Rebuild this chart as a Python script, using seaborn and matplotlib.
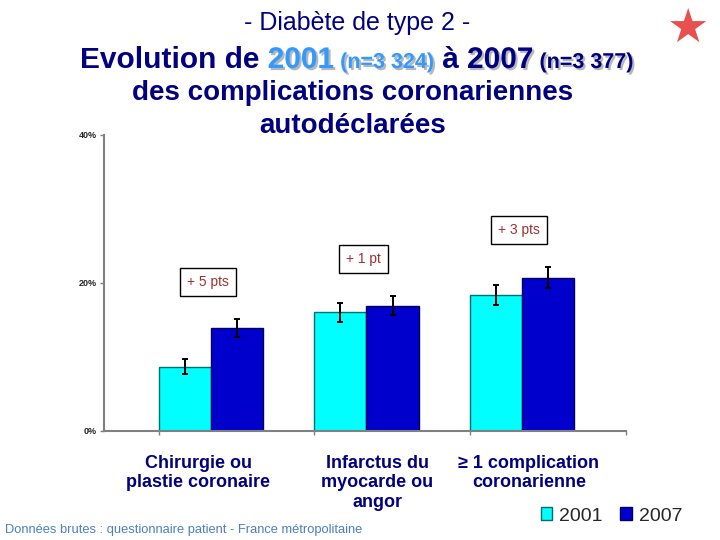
import numpy as np
import pandas as pd
import matplotlib
matplotlib.use('Agg')
import matplotlib.pyplot as plt
import matplotlib.patheffects as pe
import matplotlib.transforms as mtransforms
from matplotlib.patches import Patch
import seaborn as sns

# Données (en %)
categories = ['Chirurgie ou\nplastie coronaire', 'Infarctus du\nmyocarde ou\nangor', '≥ 1 complication\ncoronarienne']
years = ['2001', '2007']
values_2001 = [8.7, 16.0, 18.3]
values_2007 = [13.9, 16.9, 20.7]
err_2001 = [1.05, 1.3, 1.35]
err_2007 = [1.25, 1.3, 1.4]
gains = ['+ 5 pts', '+ 1 pt', '+ 3 pts']
y_ticks = [0, 20, 40]

df = pd.DataFrame({
    'categorie': categories * 2,
    'annee': [years[0]] * 3 + [years[1]] * 3,
    'pct': values_2001 + values_2007,
})

sns.set_theme(style='white')
plt.rcParams['font.family'] = ['Liberation Sans', 'DejaVu Sans']

navy = '#000080'
palette = {'2001': '#00FFFF', '2007': '#0000CC'}
edges = {'2001': '#007070', '2007': '#000060'}

fig = plt.figure(figsize=(7.2, 5.4), dpi=100)
ax = fig.add_axes([104 / 720, 1 - 431 / 540, (626 - 104) / 720, (431 - 134.7) / 540])

width = 0.67
sns.barplot(data=df, x='categorie', y='pct', hue='annee', palette=palette,
            width=width, gap=0, errorbar=None, saturation=1, legend=False, ax=ax)

# contours et barres d'erreur
for cont, yr, errs in zip(ax.containers, years, [err_2001, err_2007]):
    xs, hs = [], []
    for p in cont:
        p.set_edgecolor(edges[yr])
        p.set_linewidth(1)
        xs.append(p.get_x() + p.get_width() / 2)
        hs.append(p.get_height())
    ax.errorbar(xs, hs, yerr=errs, fmt='none', ecolor='black', elinewidth=1.4,
                capsize=2, capthick=1.4)

# étiquettes d'écart
for i, g in enumerate(gains):
    top = max(values_2001[i] + err_2001[i], values_2007[i] + err_2007[i])
    ax.text(i - 0.02, top + 5.0, g, ha='center', va='center', fontsize=10, color='#A03030',
            bbox=dict(boxstyle='square,pad=0.5', fc='white', ec='black', lw=1))

ax.set_ylim(0, 40)
ax.set_xlim(-0.688, 2.669)
ax.set_yticks(y_ticks)
ax.set_yticklabels([f'{t}%' for t in y_ticks], fontsize=6.5, fontweight='bold')
ax.tick_params(axis='y', length=3, width=1, color='#808080', pad=2, left=True)
ax.tick_params(axis='x', which='major', length=0, pad=17)
ax.set_xticks(range(len(categories)))
ax.set_xticklabels(categories, fontsize=13, fontweight='bold', color=navy, linespacing=1.2)
# décalage des libellés comme sur la diapo
for lab, dx in zip(ax.get_xticklabels(), [-12.5, 11, 7]):
    lab.set_transform(lab.get_transform() + mtransforms.ScaledTranslation(dx / 100, 0, fig.dpi_scale_trans))
minor = []
for c in range(len(categories)):
    minor += [c - width / 2, c]
minor.append(2.669)
ax.set_xticks(minor, minor=True)
ax.tick_params(axis='x', which='minor', length=3, width=1, color='#808080', bottom=True)
ax.set_xlabel('')
ax.set_ylabel('')
sns.despine(ax=ax)
for s in ['left', 'bottom']:
    ax.spines[s].set_color('#808080')
    ax.spines[s].set_linewidth(1.5)

# titre
fig.text(357 / 720, 1 - 23 / 540, '- Diabète de type 2 -', ha='center', va='center',
         fontsize=18, color=navy)
shadow = [pe.withSimplePatchShadow(offset=(1.5, -1.5), shadow_rgbFace='#888888', alpha=0.6)]
pieces = [
    ('Evolution de ', 21.5, navy, None),
    ('2001', 21.5, '#3399FF', shadow),
    (' (n=3 324)', 15.5, '#3399FF', shadow),
    (' à ', 21.5, navy, None),
    ('2007', 21.5, navy, shadow),
    (' (n=3 377)', 15.5, navy, shadow),
]
fig.canvas.draw()
r = fig.canvas.get_renderer()
x0 = 80
for txt, fs, col, eff in pieces:
    t = fig.text(x0 / 720, 1 - 68 / 540, txt, ha='left', va='baseline', fontsize=fs,
                 fontweight='bold', color=col, path_effects=eff)
    x0 = t.get_window_extent(r).x1
fig.text(353 / 720, 1 - 93 / 540, 'des complications coronariennes', ha='center', va='center',
         fontsize=20, fontweight='bold', color=navy)
fig.text(353 / 720, 1 - 126 / 540, 'autodéclarées', ha='center', va='center',
         fontsize=20, fontweight='bold', color=navy)

# logo
fig.text(688 / 720, 1 - 30 / 540, '★', ha='center', va='center', fontsize=34,
         color='#E8504F', family='DejaVu Sans')

# légende
handles = [Patch(facecolor=palette[y], edgecolor=edges[y]) for y in years]
fig.legend(handles, years, loc='center right', bbox_to_anchor=(690 / 720, 1 - 516 / 540),
           ncol=2, frameon=False, fontsize=14, handlelength=0.6, handleheight=0.6,
           handletextpad=0.35, columnspacing=0.9, borderaxespad=0)

fig.text(5 / 720, 1 - 530 / 540, 'Données brutes : questionnaire patient - France métropolitaine',
         ha='left', va='center', fontsize=9.3, color='#4A7FC0')

fig.savefig('out.png', dpi=100)
